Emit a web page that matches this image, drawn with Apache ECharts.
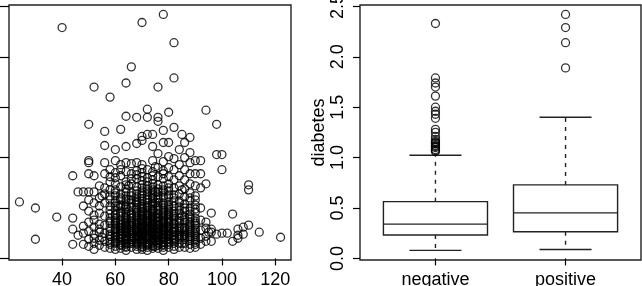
<!DOCTYPE html>
<html>
<head>
<meta charset="utf-8">
<title>diabetes</title>
<script src="https://cdn.jsdelivr.net/npm/echarts@6/dist/echarts.min.js"></script>
<style>
    html, body { margin: 0; padding: 0; background: #fff; overflow: hidden; }
    /* taller than the window so that edge labels are cut by the window, as in the original */
    #chart { width: 642px; height: 320px; margin-top: -14px; }
</style>
</head>
<body>
<div id="chart"></div>
<script type="text/javascript">
    // left panel: blood pressure (x) against pedigree (y), one list per pressure value
    var pressureCols = [24, 30, 38, 40, 44, 46, 48, 50, 52, 54, 55, 56, 58, 60, 61, 62, 64, 65, 66, 68, 70, 72, 74, 75, 76, 78, 80, 82, 84, 85, 86, 88, 90, 92, 94, 95, 96, 98, 100, 102, 104, 106, 108, 110, 114, 122];
    var pedigreeCols = [
        [0.56],
        [0.50, 0.19],
        [0.41],
        [2.29],
        [0.82, 0.40, 0.29, 0.14],
        [0.66, 0.23],
        [0.66, 0.52, 0.32, 0.14, 0.25],
        [1.33, 0.97, 0.95, 0.84, 0.66, 0.47, 0.36, 0.27, 0.19, 0.12, 0.58],
        [1.70, 0.82, 0.66, 0.55, 0.43, 0.31, 0.24, 0.15, 0.09, 0.38, 0.20],
        [0.72, 0.60, 0.45, 0.34, 0.26, 0.18, 0.13, 0.52, 0.29],
        [0.62, 0.21],
        [1.26, 1.12, 0.95, 0.84, 0.70, 0.55, 0.42, 0.33, 0.25, 0.17, 0.11, 0.64],
        [1.60, 0.88, 0.76, 0.62, 0.52, 0.44, 0.37, 0.30, 0.24, 0.19, 0.14, 0.10, 0.68, 0.27, 0.35, 0.48, 0.58, 0.22, 0.16, 0.81, 0.40],
        [1.08, 0.97, 0.80, 0.74, 0.68, 0.62, 0.57, 0.52, 0.48, 0.44, 0.40, 0.36, 0.33, 0.30, 0.27, 0.24, 0.21, 0.18, 0.15, 0.12, 0.09, 0.26, 0.35, 0.55, 0.29, 0.22, 0.65, 0.43, 0.16, 0.38, 0.85],
        [0.52],
        [1.28, 0.93, 0.82, 0.71, 0.64, 0.58, 0.53, 0.47, 0.42, 0.38, 0.34, 0.31, 0.28, 0.25, 0.22, 0.19, 0.16, 0.13, 0.10, 0.27, 0.45, 0.36, 0.60, 0.20, 0.24, 0.88, 0.51, 0.14, 0.33, 0.30],
        [1.74, 1.41, 1.11, 0.95, 0.86, 0.76, 0.69, 0.62, 0.56, 0.51, 0.46, 0.42, 0.38, 0.35, 0.32, 0.29, 0.26, 0.23, 0.20, 0.17, 0.14, 0.11, 0.08, 0.59, 0.30, 0.44, 0.25, 0.19, 0.36, 0.66, 0.22, 0.28, 0.40, 0.53, 0.15, 0.73, 0.33, 0.49, 0.27, 0.18, 0.12, 0.31],
        [0.72, 0.47, 0.34, 0.26, 0.20, 0.15, 0.58],
        [1.90, 0.94, 0.84, 0.74, 0.65, 0.58, 0.51, 0.45, 0.40, 0.35, 0.31, 0.27, 0.23, 0.19, 0.15, 0.11, 0.62, 0.29, 0.37, 0.25, 0.43, 0.55, 0.17, 0.21, 0.33, 0.79],
        [1.40, 1.14, 0.95, 0.87, 0.79, 0.71, 0.64, 0.58, 0.53, 0.48, 0.44, 0.40, 0.36, 0.33, 0.30, 0.27, 0.24, 0.21, 0.18, 0.15, 0.12, 0.09, 0.26, 0.35, 0.50, 0.29, 0.23, 0.42, 0.61, 0.19, 0.38, 0.55, 0.16, 0.31, 0.67, 0.25, 0.20, 0.46, 0.14, 0.28, 0.34, 0.83, 0.22, 0.56],
        [2.34, 1.21, 1.17, 0.93, 0.85, 0.77, 0.70, 0.64, 0.59, 0.54, 0.50, 0.46, 0.42, 0.39, 0.36, 0.33, 0.30, 0.27, 0.24, 0.21, 0.18, 0.15, 0.12, 0.09, 0.26, 0.35, 0.44, 0.29, 0.23, 0.40, 0.62, 0.19, 0.37, 0.52, 0.16, 0.31, 0.67, 0.25, 0.20, 0.47, 0.14, 0.28, 0.34, 0.81, 0.22, 0.57, 0.11, 0.43, 0.26, 0.32, 0.73, 0.17, 0.38, 0.24, 0.30, 0.49, 0.89],
        [1.48, 1.40, 1.23, 0.88, 0.80, 0.72, 0.66, 0.60, 0.55, 0.50, 0.46, 0.42, 0.38, 0.35, 0.32, 0.29, 0.26, 0.23, 0.20, 0.17, 0.14, 0.11, 0.08, 0.30, 0.44, 0.25, 0.37, 0.21, 0.58, 0.33, 0.27, 0.48, 0.19, 0.63, 0.15, 0.40, 0.24, 0.52, 0.31, 0.69, 0.22, 0.36, 0.28, 0.13, 0.76, 0.43],
        [1.23, 1.11, 0.97, 0.86, 0.78, 0.71, 0.65, 0.59, 0.54, 0.49, 0.45, 0.41, 0.37, 0.34, 0.31, 0.28, 0.25, 0.22, 0.19, 0.16, 0.13, 0.10, 0.27, 0.36, 0.47, 0.30, 0.23, 0.42, 0.62, 0.20, 0.39, 0.56, 0.17, 0.33, 0.68, 0.26, 0.21, 0.48, 0.15, 0.29, 0.35, 0.82, 0.24, 0.52, 0.12, 0.43, 0.74, 0.18, 0.32, 0.26, 0.38, 0.60],
        [0.91, 0.55, 0.40, 0.30, 0.23, 0.17, 0.66, 0.12],
        [1.70, 1.40, 1.36, 1.04, 0.90, 0.81, 0.73, 0.66, 0.60, 0.55, 0.50, 0.45, 0.41, 0.37, 0.34, 0.31, 0.28, 0.25, 0.22, 0.19, 0.16, 0.13, 0.10, 0.30, 0.44, 0.26, 0.36, 0.21, 0.58, 0.33, 0.27, 0.48, 0.18, 0.63, 0.15, 0.40, 0.24, 0.52, 0.69],
        [2.42, 1.27, 1.15, 0.96, 0.87, 0.79, 0.72, 0.66, 0.60, 0.55, 0.50, 0.46, 0.42, 0.38, 0.35, 0.32, 0.29, 0.26, 0.23, 0.20, 0.17, 0.14, 0.11, 0.08, 0.27, 0.36, 0.44, 0.30, 0.24, 0.40, 0.62, 0.19, 0.37, 0.53, 0.16, 0.31, 0.68, 0.25, 0.21, 0.48, 0.13, 0.28, 0.34, 0.84],
        [1.45, 1.15, 1.01, 0.90, 0.81, 0.74, 0.67, 0.61, 0.56, 0.51, 0.47, 0.43, 0.39, 0.35, 0.32, 0.29, 0.26, 0.23, 0.20, 0.17, 0.14, 0.11, 0.27, 0.36, 0.45, 0.30, 0.24, 0.41, 0.63, 0.19, 0.37, 0.53, 0.16, 0.31, 0.70, 0.25, 0.22, 0.49],
        [2.14, 1.79, 1.30, 0.99, 0.88, 0.78, 0.70, 0.63, 0.57, 0.52, 0.47, 0.42, 0.38, 0.34, 0.30, 0.27, 0.24, 0.21, 0.18, 0.15, 0.12, 0.09, 0.26, 0.35, 0.44, 0.29, 0.23, 0.40, 0.60, 0.19],
        [1.08, 0.93, 0.82, 0.72, 0.64, 0.57, 0.51, 0.45, 0.40, 0.35, 0.31, 0.27, 0.23, 0.19, 0.15, 0.11, 0.30, 0.48, 0.25, 0.37, 0.21, 0.55],
        [1.23, 0.68, 0.42, 0.30, 0.22, 0.15],
        [1.15, 1.00, 0.88, 0.78, 0.69, 0.61, 0.54, 0.47, 0.41, 0.36, 0.31, 0.27, 0.23, 0.19, 0.15, 0.11, 0.30, 0.50, 0.25, 0.38, 0.21],
        [1.20, 1.05, 0.95, 0.84, 0.74, 0.65, 0.57, 0.50, 0.44, 0.39, 0.34, 0.30, 0.26, 0.22, 0.18, 0.14, 0.10, 0.28, 0.47, 0.24, 0.36, 0.20, 0.60, 0.32, 0.41],
        [0.97, 0.84, 0.72, 0.62, 0.53, 0.46, 0.40, 0.35, 0.30, 0.26, 0.22, 0.18, 0.14, 0.11, 0.28, 0.49, 0.24, 0.37, 0.20, 0.58, 0.33, 0.16],
        [0.97, 0.84, 0.70, 0.50, 0.38, 0.28, 0.20, 0.14],
        [1.47, 0.74, 0.36, 0.30, 0.22, 0.17],
        [0.26],
        [0.29, 0.26, 0.17, 0.45],
        [1.33, 1.03, 0.24],
        [1.03, 0.88, 0.25],
        [0.25],
        [0.44, 0.17],
        [0.29, 0.20, 0.23],
        [0.31, 0.24],
        [0.73, 0.68, 0.33],
        [0.26],
        [0.21]
    ];

    // right panel: boxplot by test result
    var groupNames = ['negative', 'positive'];
    // [lower whisker, Q1, median, Q3, upper whisker]
    var boxStats = [
        [0.080, 0.232, 0.340, 0.563, 1.024],
        [0.088, 0.264, 0.452, 0.729, 1.400]
    ];
    var outliersNeg = [2.33, 1.79, 1.74, 1.70, 1.61, 1.50, 1.46, 1.43, 1.39, 1.28, 1.25, 1.21, 1.18, 1.16, 1.15, 1.14, 1.12, 1.11, 1.10, 1.08, 1.07, 1.06];
    var outliersPos = [2.42, 2.29, 2.14, 1.89];

    var xTicks = [40, 60, 80, 100, 120];
    var yTicks = [0, 0.5, 1, 1.5, 2, 2.5];

    var scatterData = [];
    pressureCols.forEach(function (p, i) {
        pedigreeCols[i].forEach(function (v) { scatterData.push([p, v]); });
    });
    var boxData = boxStats.map(function (s, i) { return [i + 1].concat(s); });
    var outlierData = outliersNeg.map(function (v) { return [1, v]; })
        .concat(outliersPos.map(function (v) { return [2, v]; }));

    var font = 'Liberation Sans, Arial, sans-serif';
    var black = '#000';
    var lineW = 1.4;
    var circleStyle = { color: 'rgba(0,0,0,0)', borderColor: black, borderWidth: 1.3 };
    var gridTop = 19; // 14px of the chart sit above the window

    var myChart = echarts.init(document.getElementById('chart'), null, { renderer: 'canvas' });
    var option = {
        animation: false,
        backgroundColor: '#fff',
        grid: [
            { left: 9, top: gridTop, width: 282, height: 255, show: true, borderColor: '#222', borderWidth: lineW },
            { left: 360, top: gridTop, width: 281, height: 255, show: true, borderColor: '#222', borderWidth: lineW }
        ],
        xAxis: [{
            gridIndex: 0, type: 'value', min: 20.08, max: 125.92,
            splitLine: { show: false },
            axisLine: { show: false },
            axisTick: { customValues: xTicks, length: 7, lineStyle: { color: black, width: 1.2 } },
            axisLabel: { customValues: xTicks, color: black, fontSize: 18, fontFamily: font, margin: 11 }
        }, {
            gridIndex: 1, type: 'value', min: 0.42, max: 2.58,
            splitLine: { show: false },
            axisLine: { show: false },
            axisTick: { customValues: [1, 2], length: 7, lineStyle: { color: black, width: 1.2 } },
            axisLabel: {
                customValues: [1, 2], color: black, fontSize: 18, fontFamily: font, margin: 11,
                formatter: function (v) { return groupNames[Math.round(v) - 1]; }
            }
        }],
        yAxis: [{
            gridIndex: 0, type: 'value', min: -0.0157, max: 2.5137,
            splitLine: { show: false },
            axisLine: { show: false },
            axisTick: { customValues: yTicks, length: 9, lineStyle: { color: black, width: 1.2 } },
            axisLabel: { show: false }
        }, {
            gridIndex: 1, type: 'value', min: -0.0157, max: 2.5137,
            name: 'diabetes', nameLocation: 'middle', nameGap: 32, nameRotate: 90,
            nameTextStyle: { color: black, fontSize: 18, fontFamily: font },
            splitLine: { show: false },
            axisLine: { show: false },
            axisTick: { customValues: yTicks, length: 7, lineStyle: { color: black, width: 1.2 } },
            axisLabel: {
                customValues: yTicks, rotate: 90, color: black, fontSize: 18, fontFamily: font, margin: 13,
                formatter: function (v) { return v.toFixed(1); }
            }
        }],
        series: [{
            type: 'scatter', xAxisIndex: 0, yAxisIndex: 0,
            symbol: 'circle', symbolSize: 8,
            itemStyle: circleStyle,
            data: scatterData
        }, {
            type: 'custom', xAxisIndex: 1, yAxisIndex: 1,
            encode: { x: 0, y: [1, 2, 3, 4, 5] },
            renderItem: function (params, api) {
                var x = api.value(0);
                var lo = api.coord([x, api.value(1)]);
                var q1 = api.coord([x, api.value(2)]);
                var med = api.coord([x, api.value(3)]);
                var q3 = api.coord([x, api.value(4)]);
                var hi = api.coord([x, api.value(5)]);
                var cx = lo[0];
                var halfBox = api.coord([x + 0.4, 0])[0] - cx;
                var halfCap = api.coord([x + 0.2, 0])[0] - cx;
                var solid = { stroke: '#222', lineWidth: lineW, fill: null };
                var dashed = { stroke: '#222', lineWidth: lineW, lineDash: [4, 5] };
                return {
                    type: 'group',
                    children: [
                        { type: 'line', shape: { x1: cx, y1: q3[1], x2: cx, y2: hi[1] }, style: dashed },
                        { type: 'line', shape: { x1: cx, y1: q1[1], x2: cx, y2: lo[1] }, style: dashed },
                        { type: 'line', shape: { x1: cx - halfCap, y1: hi[1], x2: cx + halfCap, y2: hi[1] }, style: solid },
                        { type: 'line', shape: { x1: cx - halfCap, y1: lo[1], x2: cx + halfCap, y2: lo[1] }, style: solid },
                        { type: 'rect', shape: { x: cx - halfBox, y: q3[1], width: 2 * halfBox, height: q1[1] - q3[1] }, style: solid },
                        { type: 'line', shape: { x1: cx - halfBox, y1: med[1], x2: cx + halfBox, y2: med[1] }, style: solid }
                    ]
                };
            },
            data: boxData
        }, {
            type: 'scatter', xAxisIndex: 1, yAxisIndex: 1,
            symbol: 'circle', symbolSize: 8,
            itemStyle: circleStyle,
            data: outlierData
        }]
    };
    myChart.setOption(option);
</script>
</body>
</html>
